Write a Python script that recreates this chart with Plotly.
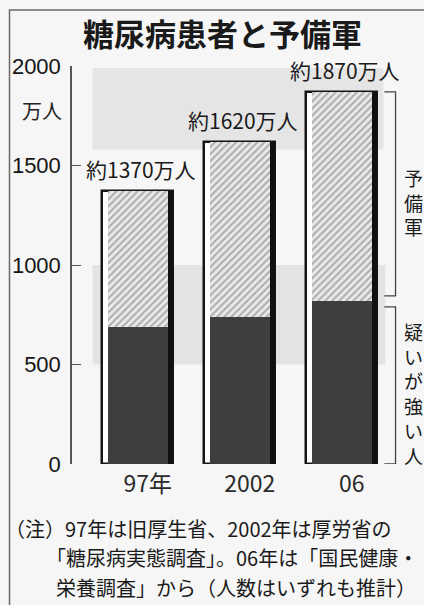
import plotly.graph_objects as go

# ---- data ----
categories = ["97年", "2002", "06"]
strong = [690, 740, 820]        # 疑いが強い人
reserve = [680, 880, 1050]      # 予備軍
totals = [1370, 1620, 1870]     # 合計（約○万人）
y_ticks = [0, 500, 1000, 1500, 2000]
y_tick_text = ["0", "500", "1000", "1500", "2000"]
note_lines = ["（注）97年は旧厚生省、2002年は厚労省の",
              "「糖尿病実態調査」。06年は「国民健康・",
              "栄養調査」から（人数はいずれも推計）"]

# ---- geometry helpers (pixel -> paper) ----
W, H = 424, 605
L, R, T, B = 72, 0, 66, 141
PW, PH = W - L - R, H - T - B


def px(xp):
    return (xp - L) / PW


def py(yp):
    return (H - B - yp) / PH


JP = "Noto Sans CJK JP"
NUM = "Liberation Sans"
x = list(range(len(categories)))

fig = go.Figure()
# outline bar (white with black border)
fig.add_trace(go.Bar(x=x, y=totals, width=0.696, offset=-0.348,
                     marker=dict(color="white", line=dict(color="#151515", width=2.5)),
                     hoverinfo="skip", showlegend=False))
# dark part: 疑いが強い人
fig.add_trace(go.Bar(x=x, y=strong, width=0.58, offset=-0.285,
                     marker=dict(color="#3e3e3e", line=dict(width=0)),
                     name="疑いが強い人", showlegend=False))
# hatched part: 予備軍
fig.add_trace(go.Bar(x=x, y=reserve, base=strong, width=0.58, offset=-0.285,
                     marker=dict(color="#e4e4e4", line=dict(width=0),
                                 pattern=dict(shape="/", fgcolor="#6a6a6a", bgcolor="#e8e8e8",
                                              size=5, solidity=0.35)),
                     name="予備軍", showlegend=False))
# right shadow
fig.add_trace(go.Bar(x=x, y=totals, width=0.055, offset=0.295,
                     marker=dict(color="#101010", line=dict(width=0)),
                     hoverinfo="skip", showlegend=False))

shapes = []
# faint print-through grey bands
shapes.append(dict(type="rect", xref="x", yref="y", x0=-0.44, x1=2.41, y0=1580, y1=1990,
                   fillcolor="#e5e5e5", line=dict(width=0), layer="below"))
shapes.append(dict(type="rect", xref="x", yref="y", x0=-0.44, x1=2.43, y0=500, y1=1000,
                   fillcolor="#e3e3e3", line=dict(width=0), layer="below"))
# frame
shapes.append(dict(type="path", xref="paper", yref="paper",
                   path=f"M {px(9.5)},{py(700)} L {px(9.5)},{py(10)} L {px(430)},{py(10)}",
                   line=dict(color="#6a6a6a", width=1.5)))
# brackets on right
bx, bx0 = 2.53, 2.42
gap_top = strong[-1] + 25
gap_bot = strong[-1] - 30
shapes.append(dict(type="path", xref="x", yref="y",
                   path=f"M {bx0},{totals[-1]} L {bx},{totals[-1]} L {bx},{gap_top} L {bx0},{gap_top}",
                   line=dict(color="#444", width=1.3)))
shapes.append(dict(type="path", xref="x", yref="y",
                   path=f"M {bx0},{gap_bot} L {bx},{gap_bot} L {bx},{0} L {bx0},{0}",
                   line=dict(color="#444", width=1.3)))

ann = []
# title
ann.append(dict(text="<b>糖尿病患者と予備軍</b>", xref="paper", yref="paper",
                x=px(222), y=py(33), xanchor="center", yanchor="middle", showarrow=False,
                font=dict(family=JP, size=31, color="#1a1a1a")))
# unit
ann.append(dict(text="万人", xref="paper", yref="paper", x=px(42), y=py(110),
                xanchor="center", yanchor="middle", showarrow=False,
                font=dict(family=JP, size=20, color="#222")))
# bar value labels
for xi, t in zip(x, totals):
    ann.append(dict(text=f"約{t}万人", x=xi + 0.03, y=t, xref="x", yref="y",
                    xanchor="center", yanchor="bottom", yshift=5, showarrow=False,
                    font=dict(family=JP, size=21, color="#1a1a1a")))
# vertical side labels
ann.append(dict(text="<br>".join("予備軍"), xref="paper", yref="paper", x=px(413), y=py(202),
                xanchor="center", yanchor="middle", showarrow=False,
                font=dict(family=JP, size=19, color="#1a1a1a")))
ann.append(dict(text="<br>".join("疑いが強い人"), xref="paper", yref="paper", x=px(413), y=py(393),
                xanchor="center", yanchor="middle", showarrow=False,
                font=dict(family=JP, size=19, color="#1a1a1a")))
# notes
note_pos = [(3, 528), (44, 557.5), (54, 587)]
for txt, (xl, yc) in zip(note_lines, note_pos):
    ann.append(dict(text=txt, xref="paper", yref="paper", x=px(xl), y=py(yc),
                    xanchor="left", yanchor="middle", showarrow=False,
                    font=dict(family=JP, size=20, color="#1a1a1a")))

fig.update_layout(
    width=W, height=H, autosize=False,
    margin=dict(l=L, r=R, t=T, b=B, pad=0),
    paper_bgcolor="#f6f6f6", plot_bgcolor="rgba(0,0,0,0)",
    barmode="overlay", bargap=0,
    shapes=shapes, annotations=ann, showlegend=False,
    xaxis=dict(range=[-0.642, 2.809], tickvals=[xi + 0.1 for xi in x], ticktext=categories,
               showline=False, showgrid=False, zeroline=False, ticks="", fixedrange=True,
               tickfont=dict(family=JP, size=23, color="#2a2a2a"), ticklabelstandoff=4),
    yaxis=dict(range=[0, 2000], tickvals=y_ticks, ticktext=y_tick_text, showline=True,
               linecolor="#555", linewidth=1.5, ticks="inside", ticklen=9, tickwidth=1.2,
               tickcolor="#555", showgrid=False, zeroline=False, fixedrange=True,
               tickfont=dict(family=NUM, size=22, color="#151515"), ticklabelstandoff=5),
)

fig.write_html("out.html")
